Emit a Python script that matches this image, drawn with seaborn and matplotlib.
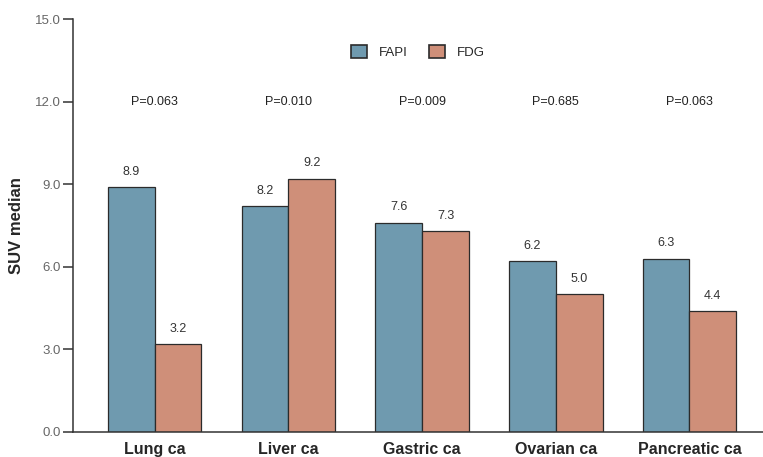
import matplotlib
matplotlib.use("Agg")
import matplotlib.pyplot as plt
import seaborn as sns
import pandas as pd

# Median SUV by tumour type for the two tracers
categories = ["Lung ca", "Liver ca", "Gastric ca", "Ovarian ca", "Pancreatic ca"]
fapi = [8.9, 8.2, 7.6, 6.2, 6.3]
fdg = [3.2, 9.2, 7.3, 5.0, 4.4]
p_values = ["P=0.063", "P=0.010", "P=0.009", "P=0.685", "P=0.063"]
tracers = ["FAPI", "FDG"]
y_ticks = [0.0, 3.0, 6.0, 9.0, 12.0, 15.0]

df = pd.DataFrame({
    "Tumour": categories * 2,
    "Tracer": [tracers[0]] * len(categories) + [tracers[1]] * len(categories),
    "SUV": fapi + fdg,
})

sns.set_style("ticks")
plt.rcParams["font.family"] = ["Liberation Sans", "DejaVu Sans"]

palette = {"FAPI": "#6f9aaf", "FDG": "#cf8f79"}

fig = plt.figure(figsize=(7.63, 4.57), dpi=100)
ax = fig.add_axes([73 / 763, 25 / 457, 690 / 763, 413 / 457])

sns.barplot(
    data=df, x="Tumour", y="SUV", hue="Tracer", order=categories,
    hue_order=tracers, palette=palette, width=0.7, gap=0,
    edgecolor="#2b2b2b", linewidth=0.9, saturation=1, ax=ax,
)

# Value labels above each bar
for container in ax.containers:
    for bar in container:
        h = bar.get_height()
        ax.annotate(f"{h:.1f}", (bar.get_x() + bar.get_width() / 2, h),
                    xytext=(0, 11), textcoords="offset points",
                    ha="center", va="center", fontsize=9, color="#333333")

# P values above each group
for i, p in enumerate(p_values):
    ax.text(i, 12.0, p, ha="center", va="center", fontsize=9, color="#222222")

ax.set_ylim(0, 15)
ax.set_xlim(-0.611, 4.55)
ax.set_yticks(y_ticks)
ax.set_yticklabels([f"{t:.1f}" for t in y_ticks])
ax.set_xlabel("")
ax.set_ylabel("SUV median", fontsize=12, fontweight="bold", labelpad=8)

ax.tick_params(axis="y", length=7, width=1.1, color="#333333",
               labelsize=9.5, labelcolor="#666666", pad=2)
ax.tick_params(axis="x", length=0, pad=7, labelsize=11.5)
for lbl in ax.get_xticklabels():
    lbl.set_fontweight("bold")

for side in ["top", "right"]:
    ax.spines[side].set_visible(False)
for side in ["left", "bottom"]:
    ax.spines[side].set_color("#333333")
    ax.spines[side].set_linewidth(1.1)

leg = ax.legend(loc="center", bbox_to_anchor=(0.5, 0.92), ncol=2,
                frameon=False, fontsize=9.5, handlelength=1.2,
                handleheight=1.2, columnspacing=1.6, handletextpad=0.9)
for h in leg.legend_handles:
    h.set_edgecolor("#2b2b2b")
    h.set_linewidth(1.2)

fig.savefig("out.png", dpi=100)
